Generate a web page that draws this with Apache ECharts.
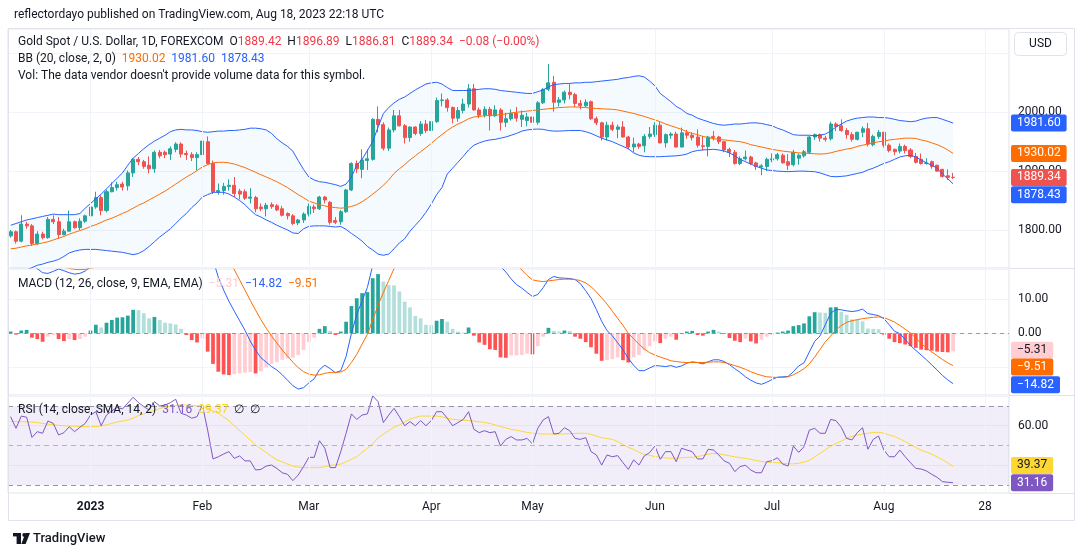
<!DOCTYPE html>
<html><head><meta charset="utf-8">
<script src="https://cdn.jsdelivr.net/npm/echarts@6/dist/echarts.min.js"></script>
<style>html,body{margin:0;padding:0;background:#fff;}#c{width:1080px;height:557px;}</style>
</head><body><div id="c"></div>
<script>
// ---------- categories (daily bars, FOREXCOM XAUUSD) ----------
const dates = [
'2022-12-09','2022-12-12','2022-12-13','2022-12-14','2022-12-15','2022-12-16','2022-12-19','2022-12-20','2022-12-21','2022-12-22',
'2022-12-23','2022-12-27','2022-12-28','2022-12-29','2022-12-30','2023-01-03','2023-01-04','2023-01-05','2023-01-06','2023-01-09',
'2023-01-10','2023-01-11','2023-01-12','2023-01-13','2023-01-16','2023-01-17','2023-01-18','2023-01-19','2023-01-20','2023-01-23',
'2023-01-24','2023-01-25','2023-01-26','2023-01-27','2023-01-30','2023-01-31','2023-02-01','2023-02-02','2023-02-03','2023-02-06',
'2023-02-07','2023-02-08','2023-02-09','2023-02-10','2023-02-13','2023-02-14','2023-02-15','2023-02-16','2023-02-17','2023-02-20',
'2023-02-21','2023-02-22','2023-02-23','2023-02-24','2023-02-27','2023-02-28','2023-03-01','2023-03-02','2023-03-03','2023-03-06',
'2023-03-07','2023-03-08','2023-03-09','2023-03-10','2023-03-13','2023-03-14','2023-03-15','2023-03-16','2023-03-17','2023-03-20',
'2023-03-21','2023-03-22','2023-03-23','2023-03-24','2023-03-27','2023-03-28','2023-03-29','2023-03-30','2023-03-31','2023-04-03',
'2023-04-04','2023-04-05','2023-04-06','2023-04-10','2023-04-11','2023-04-12','2023-04-13','2023-04-14','2023-04-17','2023-04-18',
'2023-04-19','2023-04-20','2023-04-21','2023-04-24','2023-04-25','2023-04-26','2023-04-27','2023-04-28','2023-05-01','2023-05-02',
'2023-05-03','2023-05-04','2023-05-05','2023-05-08','2023-05-09','2023-05-10','2023-05-11','2023-05-12','2023-05-15','2023-05-16',
'2023-05-17','2023-05-18','2023-05-19','2023-05-22','2023-05-23','2023-05-24','2023-05-25','2023-05-26','2023-05-29','2023-05-30',
'2023-05-31','2023-06-01','2023-06-02','2023-06-05','2023-06-06','2023-06-07','2023-06-08','2023-06-09','2023-06-12','2023-06-13',
'2023-06-14','2023-06-15','2023-06-16','2023-06-19','2023-06-20','2023-06-21','2023-06-22','2023-06-23','2023-06-26','2023-06-27',
'2023-06-28','2023-06-29','2023-06-30','2023-07-03','2023-07-04','2023-07-05','2023-07-06','2023-07-07','2023-07-10','2023-07-11',
'2023-07-12','2023-07-13','2023-07-14','2023-07-17','2023-07-18','2023-07-19','2023-07-20','2023-07-21','2023-07-24','2023-07-25',
'2023-07-26','2023-07-27','2023-07-28','2023-07-31','2023-08-01','2023-08-02','2023-08-03','2023-08-04','2023-08-07','2023-08-08',
'2023-08-09','2023-08-10','2023-08-11','2023-08-14','2023-08-15','2023-08-16','2023-08-17','2023-08-18',
'2023-08-21','2023-08-22','2023-08-23','2023-08-24','2023-08-25','2023-08-28','2023-08-29','2023-08-30','2023-08-31','2023-09-01'];

const tickDates  = ['2023-01-03','2023-02-01','2023-03-01','2023-04-03','2023-05-01','2023-06-01','2023-07-03','2023-08-01','2023-08-28'];
const tickLabels = ['2023','Feb','Mar','Apr','May','Jun','Jul','Aug','28'];
const priceTicks = [1800, 1900, 2000];
const macdTicks = [0, 10];
const rsiTicks = [60];

// ---------- OHLC ----------
const open = [1790,1797,1781,1810,1807,1777,1793,1787,1818,1814,
1792,1798,1814,1804,1815,1824,1839,1855,1833,1865,
1872,1878,1875,1897,1920,1916,1910,1904,1932,1932,
1929,1937,1946,1930,1928,1923,1928,1950,1913,1865,
1867,1874,1876,1866,1865,1854,1855,1839,1836,1843,
1841,1836,1828,1824,1812,1817,1827,1839,1836,1856,
1847,1816,1814,1831,1868,1913,1903,1918,1920,1988,
1979,1939,1970,1994,1977,1957,1975,1964,1980,1969,
1984,2020,2021,2008,1990,2003,2014,2040,2004,1995,
2005,1994,2004,1983,1989,1998,1988,1986,1992,1983,
2016,2039,2051,2017,2021,2034,2030,2015,2011,2018,
1989,1982,1958,1978,1971,1975,1958,1941,1946,1943,
1959,1962,1978,1948,1961,1963,1941,1965,1961,1958,
1943,1942,1959,1958,1950,1937,1932,1913,1921,1924,
1914,1907,1908,1919,1921,1927,1916,1911,1922,1926,
1932,1958,1962,1956,1955,1980,1977,1969,1962,1954,
1966,1972,1945,1959,1966,1944,1937,1934,1942,1936,
1925,1920,1913,1916,1910,1903,1892,1889.42];
const high = [1800,1799,1825,1814,1810,1798,1797,1822,1825,1822,
1802,1833,1816,1820,1826,1850,1865,1859,1869,1881,
1882,1882,1901,1922,1924,1919,1925,1935,1936,1935,
1942,1949,1949,1935,1932,1932,1955,1959,1918,1879,
1880,1886,1890,1870,1869,1871,1858,1845,1846,1847,
1844,1841,1830,1827,1819,1830,1845,1843,1858,1858,
1849,1822,1834,1870,1915,1918,1937,1937,1990,2010,
1983,1974,2004,2004,1980,1976,1976,1985,1987,1990,
2025,2032,2024,2010,2009,2023,2048,2048,2008,2010,
2009,2012,2007,1999,2005,2009,2003,1999,2008,2019,
2041,2082,2062,2026,2037,2048,2033,2021,2022,2020,
1993,1984,1984,1984,1979,1985,1960,1957,1948,1963,
1975,1983,1984,1964,1966,1967,1974,1970,1966,1971,
1959,1960,1968,1960,1951,1940,1936,1925,1935,1926,
1916,1912,1923,1930,1931,1930,1929,1936,1930,1936,
1960,1964,1964,1960,1984,1983,1988,1973,1966,1967,
1976,1982,1962,1970,1967,1947,1938,1947,1945,1939,
1931,1930,1922,1918,1911,1904,1903,1896.89];
const low = [1787,1777,1779,1802,1773,1775,1784,1785,1810,1785,
1791,1797,1802,1800,1812,1822,1836,1825,1830,1864,
1867,1867,1867,1890,1910,1904,1896,1897,1922,1922,
1919,1932,1923,1919,1917,1901,1920,1911,1861,1860,
1860,1867,1856,1852,1851,1845,1830,1832,1823,1836,
1832,1823,1818,1808,1808,1812,1823,1829,1834,1845,
1809,1810,1809,1829,1866,1897,1888,1902,1918,1966,
1935,1934,1966,1976,1947,1950,1961,1960,1965,1950,
1982,2010,2001,1981,1984,1998,2008,2003,1990,1991,
1969,1992,1969,1975,1986,1984,1975,1976,1980,1979,
2014,2036,2001,2010,2015,2022,2009,2005,2009,1987,
1978,1952,1952,1968,1956,1957,1937,1932,1938,1932,
1955,1958,1947,1940,1955,1940,1940,1955,1952,1940,
1935,1925,1952,1946,1932,1924,1911,1910,1918,1910,
1902,1893,1900,1915,1918,1913,1902,1908,1911,1923,
1929,1953,1950,1950,1952,1968,1967,1955,1950,1952,
1958,1942,1942,1955,1940,1932,1927,1930,1930,1922,
1913,1911,1911,1904,1899,1889,1885,1886.81];
const close = [1797,1781,1810,1807,1777,1793,1787,1818,1814,1792,
1798,1814,1804,1815,1824,1839,1855,1833,1865,1872,
1877,1873,1897,1920,1916,1908,1904,1932,1926,1928,
1938,1946,1929,1928,1923,1928,1951,1913,1865,1867,
1874,1876,1862,1861,1854,1856,1836,1836,1842,1840,
1834,1825,1824,1811,1817,1827,1840,1836,1856,1851,
1813,1813,1831,1868,1913,1904,1919,1921,1988,1979,
1939,1970,1994,1977,1957,1975,1964,1980,1969,1984,
2020,2021,2008,1990,2003,2014,2040,2004,1995,2005,
1994,2004,1983,1989,1998,1990,1995,1992,1983,2016,
2039,2050,2017,2021,2034,2030,2015,2011,2017,1989,
1982,1958,1978,1971,1975,1958,1941,1946,1942,1959,
1963,1978,1948,1962,1963,1941,1965,1961,1957,1944,
1942,1958,1957,1950,1936,1932,1913,1921,1924,1913,
1908,1909,1920,1921,1928,1914,1910,1932,1927,1933,
1958,1962,1956,1954,1980,1976,1969,1962,1954,1966,
1972,1946,1959,1966,1944,1935,1933,1942,1935,1925,
1915,1913,1914,1908,1900,1891,1889.42,1889.34];

// ---------- Bollinger Bands (20, 2) ----------
const bbUpper = [1808,1811,1814,1817,1819,1821,1823,1825,1827,1826,
1826,1826,1826,1828,1837,1845,1853,1861,1870,1879,
1888,1897,1910,1922,1930,1938,1945,1951,1956,1961,
1967,1970,1971,1970,1970,1969,1967,1966,1967,1968,
1968,1969,1969,1970,1971,1973,1973,1972,1970,1964,
1955,1948,1942,1934,1918,1903,1890,1885,1882,1881,
1879,1877,1874,1878,1890,1910,1920,1935,1950,1975,
1998,2008,2016,2022,2026,2032,2038,2043,2048,2050,
2051,2048,2042,2037,2037,2037,2037,2038,2039,2040,
2040,2039,2037,2036,2035,2034,2033,2032,2032,2035,
2038,2043,2047,2048,2049,2049,2050,2050,2051,2051,
2052,2053,2054,2055,2056,2058,2059,2061,2062,2060,
2053,2045,2032,2025,2018,2010,2005,1998,1995,1990,
1987,1984,1981,1979,1978,1979,1980,1980,1981,1982,
1982,1981,1979,1977,1973,1970,1966,1962,1961,1961,
1961,1960,1961,1963,1968,1975,1980,1985,1988,1990,
1991,1992,1992,1991,1991,1990,1988,1986,1985,1984,
1985,1988,1990,1991,1991,1988,1985,1981.60];
const bbBasis = [1768,1769,1771,1773,1774.5,1776,1778,1780,1783,1786,
1789,1793,1796,1799,1802,1806,1809,1813,1817,1820,
1824,1828,1832,1837,1842,1846,1851,1856,1861,1866,
1872,1878,1884,1890,1895,1901,1907,1911,1914,1915,
1915,1914,1912,1909,1906,1902,1898,1894,1890,1886,
1882,1877,1872,1866,1860,1855,1849,1846,1843,1841,
1839,1838,1837,1838,1840,1843,1848,1854,1861,1868,
1876,1885,1896,1904,1911,1919,1926,1933,1940,1947,
1955,1962,1969,1975,1980,1984,1989,1992,1993,1994,
1995,1995,1996,1997,1999,2000,2001,2002,2003,2004,
2005,2006,2007,2008,2008.5,2009,2009,2008.5,2008,2007,
2006.5,2006,2005.5,2005,2004,2002,2000,1998,1995.5,1993,
1990,1987,1984,1980,1977,1974,1971,1967,1964,1962,
1959,1957,1955,1954,1953,1952,1951,1950,1948,1945,
1943,1941,1939,1937,1935.5,1934,1933,1932,1931,1930.5,
1930,1929.5,1929,1929.5,1931,1933.5,1935.5,1937.5,1939,1942,
1944,1946,1948,1950,1951,1953,1954,1955,1956,1956,
1955.5,1953,1951,1948,1945,1941,1936,1930.02];
const bbLower = [1722,1726,1729,1732,1736,1740,1742,1745,1747,1750,
1755,1761,1764,1766,1767,1767,1767,1766,1765,1764,
1763,1762,1760,1758,1760,1765,1772,1780,1788,1795,
1802,1811,1820,1828,1838,1846,1856,1860,1864,1864,
1864,1861,1856,1850,1843,1834,1826,1822,1817,1813,
1808,1804,1800,1795,1794,1802,1806,1807,1807,1807,
1806,1805,1806,1801,1794,1788,1781,1772,1766,1759,
1757,1759,1768,1778,1785,1798,1808,1818,1830,1844,
1860,1872,1895,1905,1915,1925,1936,1944,1948,1951,
1953,1954,1956,1958,1961,1964,1968,1970,1971,1971.5,
1971,1969,1968,1968,1968.5,1969,1969,1969,1967,1964,
1960,1956,1953,1950,1946,1942,1938,1931,1927,1925,
1924.5,1924.5,1924.5,1925,1925.5,1926,1927,1929,1933,1935,
1936,1936.5,1937,1936,1934,1931,1926,1920,1916,1912,
1908,1905,1902,1901,1900,1899.5,1899,1899.5,1900,1900,
1899.5,1899,1897,1894,1891,1890.5,1891,1892,1894,1896,
1898,1902,1905,1909,1913,1916,1920,1924,1926,1927,
1924,1919,1914,1910,1905,1895,1887,1878.43];

// ---------- MACD (12, 26, 9) ----------
const macdLine = [21.5,20.8,21.5,21.4,20.0,19.0,17.8,17.6,18.2,18.9,
18.4,17.8,17.4,17.6,18.3,19.6,21.9,21.5,23.7,25.5,
27.3,28.6,30.4,33.8,35.4,36.0,35.6,37.2,37.3,37.3,
37.8,38.2,37.2,35.3,33.3,31.9,32.7,27.5,21.6,16.5,
12.7,9.4,6.5,3.7,0.9,-2.3,-5.0,-7.2,-8.5,-9.8,
-10.8,-12.2,-13.8,-15.4,-16.4,-16.0,-14.6,-13.4,-10.7,-9.4,
-10.4,-11.6,-11.0,-6.8,0.0,5.5,9.5,13.5,20.0,25.5,
27.2,29.7,33.2,34.3,33.6,33.6,32.3,32.6,31.3,31.9,
33.9,35.4,35.4,33.6,32.9,32.6,34.5,31.9,29.2,27.6,
25.1,23.6,19.7,18.0,16.0,14.3,13.3,12.0,10.8,11.4,
13.4,15.8,16.7,16.3,16.2,16.1,15.8,14.6,12.5,10.2,
7.0,3.5,0.8,-0.7,-2.8,-4.8,-7.4,-9.4,-11.0,-11.0,
-10.2,-9.5,-9.6,-9.8,-9.5,-10.0,-9.6,-8.8,-8.4,-8.6,
-9.0,-8.4,-7.8,-7.8,-8.3,-9.2,-10.4,-11.5,-12.8,-13.8,
-14.6,-15.0,-14.4,-13.6,-12.9,-12.8,-12.7,-11.3,-9.6,-8.7,
-5.5,-2.4,-0.8,2.5,5.9,7.0,6.9,6.6,6.4,6.6,
7.1,5.8,5.5,5.2,4.3,2.5,0.6,-0.1,-1.8,-3.6,
-5.0,-6.4,-7.8,-9.3,-10.8,-12.4,-13.7,-14.82];
const signalLine = [20.8,20.8,20.9,21.0,20.8,20.5,20.1,19.8,19.6,19.5,
19.4,19.1,18.8,18.7,18.8,19.1,19.4,19.8,20.6,21.6,
22.7,23.9,25.2,26.9,28.6,30.1,31.2,32.4,33.4,34.2,
34.9,35.6,35.9,35.8,35.3,34.6,34.2,32.9,30.6,27.8,
24.8,21.7,18.7,15.7,12.7,9.7,6.8,4.0,1.5,-0.8,
-2.9,-4.9,-6.7,-8.5,-10.1,-11.3,-12.0,-12.3,-12.2,-11.8,
-11.5,-11.5,-11.4,-10.6,-8.6,-6.2,-3.2,-0.3,4.0,8.2,
12.0,15.5,19.0,22.0,24.3,26.0,27.2,28.2,28.8,29.4,
30.2,31.2,32.0,32.3,32.4,32.4,32.8,32.6,31.9,31.0,
29.8,28.5,26.8,24.0,22.3,20.4,18.6,17.0,15.7,15.4,
15.2,15.4,15.6,15.8,15.9,15.9,15.8,15.5,14.8,13.7,
12.2,10.4,8.6,6.5,4.4,2.3,0.0,-1.6,-3.2,-4.6,
-5.7,-6.4,-7.0,-7.5,-8.1,-8.3,-8.5,-8.6,-8.6,-8.6,
-8.6,-8.5,-8.4,-8.4,-8.6,-9.0,-9.5,-10.0,-10.6,-11.3,
-11.9,-12.4,-12.8,-12.9,-13.0,-13.0,-12.8,-12.2,-11.4,-10.4,
-9.0,-7.0,-4.8,-2.5,-0.8,1.0,2.3,3.2,3.7,4.0,
4.3,4.5,4.7,4.8,4.6,4.0,3.3,2.3,1.2,0.1,
-1.4,-3.0,-4.3,-5.5,-6.6,-7.7,-8.7,-9.51];
const macdHist = [0.5,-0.4,0.8,1.0,-1.3,-1.7,-2.5,-1.0,-0.5,-1.7,
-2.3,-1.7,-2.0,-1.7,-1.0,0.8,2.5,1.7,3.1,3.9,
4.6,4.7,5.2,6.9,6.8,5.9,4.4,4.8,3.9,3.1,
2.9,2.6,1.3,-0.5,-2.0,-2.7,-1.5,-5.4,-9.0,-11.3,
-12.1,-12.3,-12.0,-11.8,-11.6,-11.4,-11.8,-11.2,-10.0,-9.0,
-8.5,-7.8,-7.4,-7.2,-6.4,-4.9,-2.6,-1.3,1.3,2.1,
0.7,-0.5,0.5,3.4,8.0,10.3,11.8,12.1,16.2,17.4,
15.2,14.2,14.1,12.3,9.3,7.6,5.1,4.4,2.5,2.4,
3.7,4.2,3.4,1.3,0.5,0.2,1.7,-0.7,-2.7,-3.4,
-4.7,-4.9,-7.1,-7.2,-6.5,-6.5,-6.4,-6.0,-6.2,-3.8,
-1.0,1.6,0.7,0.5,0.8,0.7,-1.0,-1.6,-2.6,-4.1,
-6.0,-8.1,-7.9,-7.6,-7.1,-7.9,-8.6,-7.1,-6.4,-5.0,
-3.8,-2.4,-2.9,-1.6,-1.0,-1.9,-0.3,0.5,0.7,-0.5,
-0.7,0.5,1.0,0.5,-0.2,-1.4,-2.2,-2.6,-1.6,-2.4,
-3.0,-1.9,-1.0,-0.5,0.2,0.5,0.8,2.1,2.4,2.9,
5.0,6.2,6.1,6.0,7.6,7.7,6.3,5.4,4.1,4.0,
3.5,1.4,1.3,1.2,-0.4,-1.6,-2.6,-2.9,-3.3,-3.8,
-4.3,-4.8,-5.0,-5.1,-5.4,-5.5,-5.6,-5.31];

// ---------- RSI (14) and its SMA (14) ----------
const rsi = [64.6,58.7,64.9,64.3,54.1,57.0,56.2,62.4,61.2,55.3,
56.5,59.5,57.0,59.2,61.2,65.4,67.1,60.0,65.4,67.5,
69.3,68.5,71.5,74.4,71.7,69.7,68.0,72.2,70.0,70.5,
71.7,73.4,66.3,65.4,63.8,64.6,70.5,57.8,43.2,44.3,
45.7,46.9,43.5,44.7,42.2,42.2,37.6,37.9,39.6,40.1,
38.4,36.2,35.4,32.2,35.0,39.3,44.0,44.0,52.4,48.6,
38.8,38.8,46.9,56.2,66.0,63.2,65.4,66.0,75.1,72.2,
61.6,65.4,68.8,64.6,60.0,62.1,60.0,62.6,60.0,62.6,
67.1,67.1,63.8,60.0,61.6,63.2,67.1,58.2,56.5,57.5,
56.5,57.0,49.7,53.1,54.5,52.8,52.8,53.6,50.8,58.7,
62.9,64.6,55.8,56.2,59.0,57.5,53.6,53.1,54.0,46.9,
45.2,40.1,45.2,44.3,44.9,41.3,37.9,42.7,40.1,44.7,
46.4,49.7,43.0,46.9,46.9,41.8,48.6,47.7,46.9,43.2,
43.2,48.1,47.7,45.2,42.2,41.0,36.8,39.3,40.0,37.6,
36.2,36.2,41.8,42.3,43.8,40.6,39.6,49.7,46.5,49.4,
57.8,58.7,56.2,56.2,63.2,62.6,59.2,53.6,52.8,56.5,
59.0,48.1,53.1,54.8,47.7,44.3,44.3,47.7,44.3,41.3,
38.4,38.1,37.1,35.4,33.9,31.7,31.4,31.16];
const rsiSma = [62.1,62.1,62.0,62.0,61.9,61.6,61.2,60.8,60.5,60.2,
60.0,59.9,59.8,59.6,59.5,59.5,59.6,59.9,60.5,61.2,
61.9,62.4,62.9,63.8,65.2,66.0,67.2,67.8,68.7,69.5,
70.0,70.3,70.5,70.5,70.3,70.1,70.0,68.9,67.5,66.3,
64.5,62.5,60.0,57.5,55.2,52.7,50.3,48.3,46.5,44.5,
42.7,41.7,40.6,39.6,39.1,38.8,38.8,38.8,38.8,39.3,
39.9,40.2,40.6,41.8,43.0,44.3,46.5,48.6,50.8,54.0,
55.7,57.5,59.3,60.4,61.8,63.4,64.2,64.9,64.9,64.9,
64.9,64.5,63.8,63.3,63.0,62.8,62.6,62.4,62.0,61.7,
61.2,60.4,59.6,58.9,58.2,57.7,57.2,56.6,56.3,56.0,
55.8,55.8,55.8,55.8,55.9,56.0,56.1,56.2,56.2,55.6,
54.8,54.0,53.5,53.1,52.0,50.5,49.1,48.0,46.6,45.5,
45.0,44.4,44.0,43.7,43.5,43.6,43.8,44.0,44.0,44.4,
45.0,45.6,46.0,45.8,45.3,44.8,44.3,43.8,43.5,43.0,
42.4,41.9,41.6,41.4,41.3,41.0,40.7,40.7,41.0,41.6,
42.5,44.2,46.0,47.8,49.6,51.0,52.2,53.7,54.6,55.3,
55.8,56.2,56.6,56.7,56.2,55.3,54.6,53.3,52.0,50.5,
49.0,47.6,46.7,45.6,44.2,42.8,41.2,39.37];

// ---------- build ----------
const FONT = 'Roboto, "Noto Sans", "Liberation Sans", sans-serif';
const TXT = '#131722';
const UP = '#26a69a', DOWN = '#ef5350', BLUE = '#2962ff', ORANGE = '#ff6d00', PURPLE = '#7e57c2', YELLOW = '#fdd835';
const n = close.length;
const last = a => a[a.length - 1];
const fmt = v => (v < 0 ? '\u2212' : '') + Math.abs(v).toFixed(2);

const candleData = close.map((c, i) => [open[i], c, low[i], high[i]]);
const bandWidth = bbUpper.map((u, i) => +(u - bbLower[i]).toFixed(2));
const histData = macdHist.map((h, i) => {
  const p = i > 0 ? macdHist[i - 1] : 0;
  const col = h >= 0 ? (h >= p ? '#26a69a' : '#b2dfdb') : (h < p ? '#ff5252' : '#ffcdd2');
  return { value: h, itemStyle: { color: col } };
});

// value tag on the price scale: an invisible horizontal markLine whose end label is the tag
function tag(v, bg, fg, dy) {
  return {
    silent: true, symbol: ['none', 'none'], animation: false,
    lineStyle: { color: 'rgba(0,0,0,0)', width: 1, type: 'solid' },
    label: { show: true, position: 'end', distance: 2, formatter: () => fmt(v),
      backgroundColor: bg, color: fg, padding: [3, 6, 2, 6], borderRadius: 2,
      fontSize: 12, fontFamily: FONT, offset: [0, dy || 0] },
    data: [{ yAxis: v }]
  };
}
function gridSeries(idx, extraLines, markArea) {
  const lines = tickDates.map(d => ({ xAxis: d })).concat(extraLines || []);
  const s = {
    type: 'line', xAxisIndex: idx, yAxisIndex: idx, data: [], silent: true, z: 0,
    markLine: { silent: true, symbol: ['none', 'none'], animation: false, label: { show: false },
      lineStyle: { color: '#f0f3fa', width: 1, type: 'solid' }, data: lines }
  };
  if (markArea) s.markArea = markArea;
  return s;
}
function lineS(idx, data, color, z) {
  return { type: 'line', xAxisIndex: idx, yAxisIndex: idx, data, symbol: 'none', showSymbol: false,
    lineStyle: { color, width: 1 }, itemStyle: { color }, silent: true, z: z || 3 };
}
function tagS(idx, v, bg, fg, dy) {
  return { type: 'line', xAxisIndex: idx, yAxisIndex: idx, data: [], silent: true, z: 20, markLine: tag(v, bg, fg, dy) };
}

const grids = [
  { left: 8, right: 71, top: 29, height: 239 },
  { left: 8, right: 71, top: 269, height: 126 },
  { left: 8, right: 71, top: 396, height: 97 }
].map(g => Object.assign(g, { show: true, borderColor: '#e0e3eb', borderWidth: 1, backgroundColor: 'transparent' }));

const xAxes = [0, 1, 2].map(i => ({
  type: 'category', gridIndex: i, data: dates, boundaryGap: true,
  axisLine: { show: false }, axisTick: { show: false }, splitLine: { show: false },
  axisLabel: i < 2 ? { show: false } : {
    show: true, margin: 8, color: TXT, fontSize: 12, fontFamily: FONT,
    interval: (idx, val) => tickDates.indexOf(val) >= 0,
    formatter: val => { const k = tickDates.indexOf(val); return k === 0 ? '{y|' + tickLabels[k] + '}' : (k > 0 ? tickLabels[k] : ''); },
    rich: { y: { fontWeight: 'bold', fontSize: 12, color: TXT, fontFamily: FONT } }
  }
}));

function yAx(i, min, max, splitNumber, ticks) {
  return {
    type: 'value', gridIndex: i, position: 'right', min, max, splitNumber,
    axisLine: { show: false }, axisTick: { show: false },
    splitLine: { show: true, lineStyle: { color: '#f0f3fa', width: 1 } },
    axisLabel: { margin: 9, color: TXT, fontSize: 12, fontFamily: FONT, showMinLabel: false, showMaxLabel: false,
      formatter: v => ticks.indexOf(Math.round(v * 100) / 100) >= 0 ? v.toFixed(2) : '' }
  };
}

const option = {
  animation: false,
  backgroundColor: '#ffffff',
  textStyle: { fontFamily: FONT },
  grid: grids,
  xAxis: xAxes,
  yAxis: [yAx(0, 1735.4, 2141.5, 4, priceTicks), yAx(1, -18.15, 18.9, 4, macdTicks), yAx(2, 25.95, 75.06, 3, rsiTicks)],
  series: [
    gridSeries(0),
    { type: 'line', xAxisIndex: 0, yAxisIndex: 0, data: bbLower, stack: 'bb', symbol: 'none', lineStyle: { opacity: 0 }, silent: true, z: 1 },
    { type: 'line', xAxisIndex: 0, yAxisIndex: 0, data: bandWidth, stack: 'bb', symbol: 'none', lineStyle: { opacity: 0 },
      areaStyle: { color: 'rgba(33,150,243,0.06)' }, silent: true, z: 1 },
    { type: 'candlestick', xAxisIndex: 0, yAxisIndex: 0, data: candleData, barWidth: '66%', silent: true, z: 2,
      itemStyle: { color: UP, color0: DOWN, borderColor: UP, borderColor0: DOWN, borderWidth: 1 } },
    lineS(0, bbUpper, BLUE, 3),
    lineS(0, bbLower, BLUE, 3),
    lineS(0, bbBasis, ORANGE, 3),
    tagS(0, last(bbUpper), BLUE, '#fff', 0),
    tagS(0, last(bbBasis), ORANGE, '#fff', 0),
    tagS(0, last(close), DOWN, '#fff', 0),
    tagS(0, last(bbLower), BLUE, '#fff', 11),

    gridSeries(1, [{ yAxis: 0, lineStyle: { color: '#9598a1', type: [4, 4], width: 1 } }]),
    { type: 'bar', xAxisIndex: 1, yAxisIndex: 1, data: histData, barWidth: '70%', silent: true, z: 2 },
    lineS(1, macdLine, BLUE, 3),
    lineS(1, signalLine, ORANGE, 3),
    tagS(1, last(macdHist), '#ffcdd2', TXT, -1),
    tagS(1, last(signalLine), ORANGE, '#fff', 1.5),
    tagS(1, last(macdLine), BLUE, '#fff', 1),

    gridSeries(2, [
      { yAxis: 70, lineStyle: { color: '#9598a1', type: [5, 4], width: 1 } },
      { yAxis: 50, lineStyle: { color: '#b2b5be', type: [5, 4], width: 1 } },
      { yAxis: 30, lineStyle: { color: '#9598a1', type: [5, 4], width: 1 } }
    ], { silent: true, itemStyle: { color: 'rgba(126,87,194,0.1)' }, data: [[{ yAxis: 30 }, { yAxis: 70 }]] }),
    lineS(2, rsi, PURPLE, 3),
    lineS(2, rsiSma, YELLOW, 2),
    tagS(2, last(rsiSma), YELLOW, TXT, -1),
    tagS(2, last(rsi), PURPLE, '#fff', 0)
  ],
  graphic: [
    { type: 'rect', shape: { x: 8.5, y: 28.5, width: 1066, height: 492 }, style: { fill: 'none', stroke: '#e0e3eb', lineWidth: 1 }, silent: true, z: 50 },
    { type: 'line', shape: { x1: 1009, y1: 268.5, x2: 1075, y2: 268.5 }, style: { stroke: '#e0e3eb', lineWidth: 1 }, silent: true },
    { type: 'line', shape: { x1: 1009, y1: 395.5, x2: 1075, y2: 395.5 }, style: { stroke: '#e0e3eb', lineWidth: 1 }, silent: true },
    { type: 'line', shape: { x1: 1009, y1: 493.5, x2: 1075, y2: 493.5 }, style: { stroke: '#e0e3eb', lineWidth: 1 }, silent: true },
    { type: 'text', x: 14, y: 15, silent: true,
      style: { text: 'reflectordayo published on TradingView.com, Aug 18, 2023 22:18 UTC', fill: TXT, font: '12px ' + FONT, verticalAlign: 'middle' } },
    { type: 'text', x: 18, y: 42, silent: true, z: 60,
      style: { text: '{t|Gold Spot / U.S. Dollar, 1D, FOREXCOM}  {t|O}{r|' + last(open).toFixed(2) + '}  {t|H}{r|' + last(high).toFixed(2) +
        '}  {t|L}{r|' + last(low).toFixed(2) + '}  {t|C}{r|' + last(close).toFixed(2) + '}  {r|' + fmt(last(close) - close[n - 2]) +
        ' (' + fmt((last(close) - close[n - 2]) / close[n - 2] * 100) + '%)}',
        verticalAlign: 'middle', font: '12px ' + FONT,
        rich: { t: { fill: TXT, font: '12px ' + FONT }, r: { fill: '#f23645', font: '12px ' + FONT } } } },
    { type: 'text', x: 18, y: 59, silent: true, z: 60,
      style: { text: '{t|BB (20, close, 2, 0)}  {o|' + fmt(last(bbBasis)) + '}  {b|' + fmt(last(bbUpper)) + '}  {b|' + fmt(last(bbLower)) + '}',
        verticalAlign: 'middle', font: '12px ' + FONT,
        rich: { t: { fill: TXT, font: '12px ' + FONT }, o: { fill: ORANGE, font: '12px ' + FONT }, b: { fill: BLUE, font: '12px ' + FONT } } } },
    { type: 'text', x: 18, y: 76, silent: true, z: 60,
      style: { text: "Vol: The data vendor doesn't provide volume data for this symbol.", fill: TXT, font: '12px ' + FONT, verticalAlign: 'middle' } },
    { type: 'text', x: 18, y: 284, silent: true, z: 60,
      style: { text: '{t|MACD (12, 26, close, 9, EMA, EMA)}  {p|' + fmt(last(macdHist)) + '}  {b|' + fmt(last(macdLine)) + '}  {o|' + fmt(last(signalLine)) + '}',
        verticalAlign: 'middle', font: '12px ' + FONT,
        rich: { t: { fill: TXT, font: '12px ' + FONT }, p: { fill: '#ffcdd2', font: '12px ' + FONT }, b: { fill: BLUE, font: '12px ' + FONT }, o: { fill: ORANGE, font: '12px ' + FONT } } } },
    { type: 'text', x: 18, y: 410, silent: true, z: 60,
      style: { text: '{t|RSI (14, close, SMA, 14, 2)}  {v|' + fmt(last(rsi)) + '}  {y|' + fmt(last(rsiSma)) + '}  {t|\u2205}  {t|\u2205}',
        verticalAlign: 'middle', font: '12px ' + FONT,
        rich: { t: { fill: TXT, font: '12px ' + FONT }, v: { fill: PURPLE, font: '12px ' + FONT }, y: { fill: '#f9d71c', font: '12px ' + FONT } } } },
    { type: 'rect', shape: { x: 1014.5, y: 32.5, width: 52, height: 23, r: 4 }, style: { fill: '#fff', stroke: '#e0e3eb', lineWidth: 1 }, silent: true, z: 60 },
    { type: 'text', x: 1040.5, y: 44, silent: true, z: 61,
      style: { text: 'USD', fill: TXT, font: '12px ' + FONT, align: 'center', verticalAlign: 'middle' } },
    { type: 'group', x: 13, y: 533, silent: true, children: [
      { type: 'rect', shape: { x: 0, y: 0, width: 8, height: 3.4 }, style: { fill: TXT } },
      { type: 'rect', shape: { x: 3.6, y: 0, width: 4.4, height: 11 }, style: { fill: TXT } },
      { type: 'circle', shape: { cx: 11.2, cy: 1.9, r: 1.9 }, style: { fill: TXT } },
      { type: 'polygon', shape: { points: [[12.5, 0], [17, 0], [12.6, 11], [8.3, 11]] }, style: { fill: TXT } }
    ] },
    { type: 'text', x: 33, y: 539, silent: true,
      style: { text: 'TradingView', fill: TXT, font: '500 13px ' + FONT, verticalAlign: 'middle' } }
  ]
};

const chart = echarts.init(document.getElementById('c'), null, { renderer: 'canvas', width: 1080, height: 557 });
chart.setOption(option);
</script></body></html>
